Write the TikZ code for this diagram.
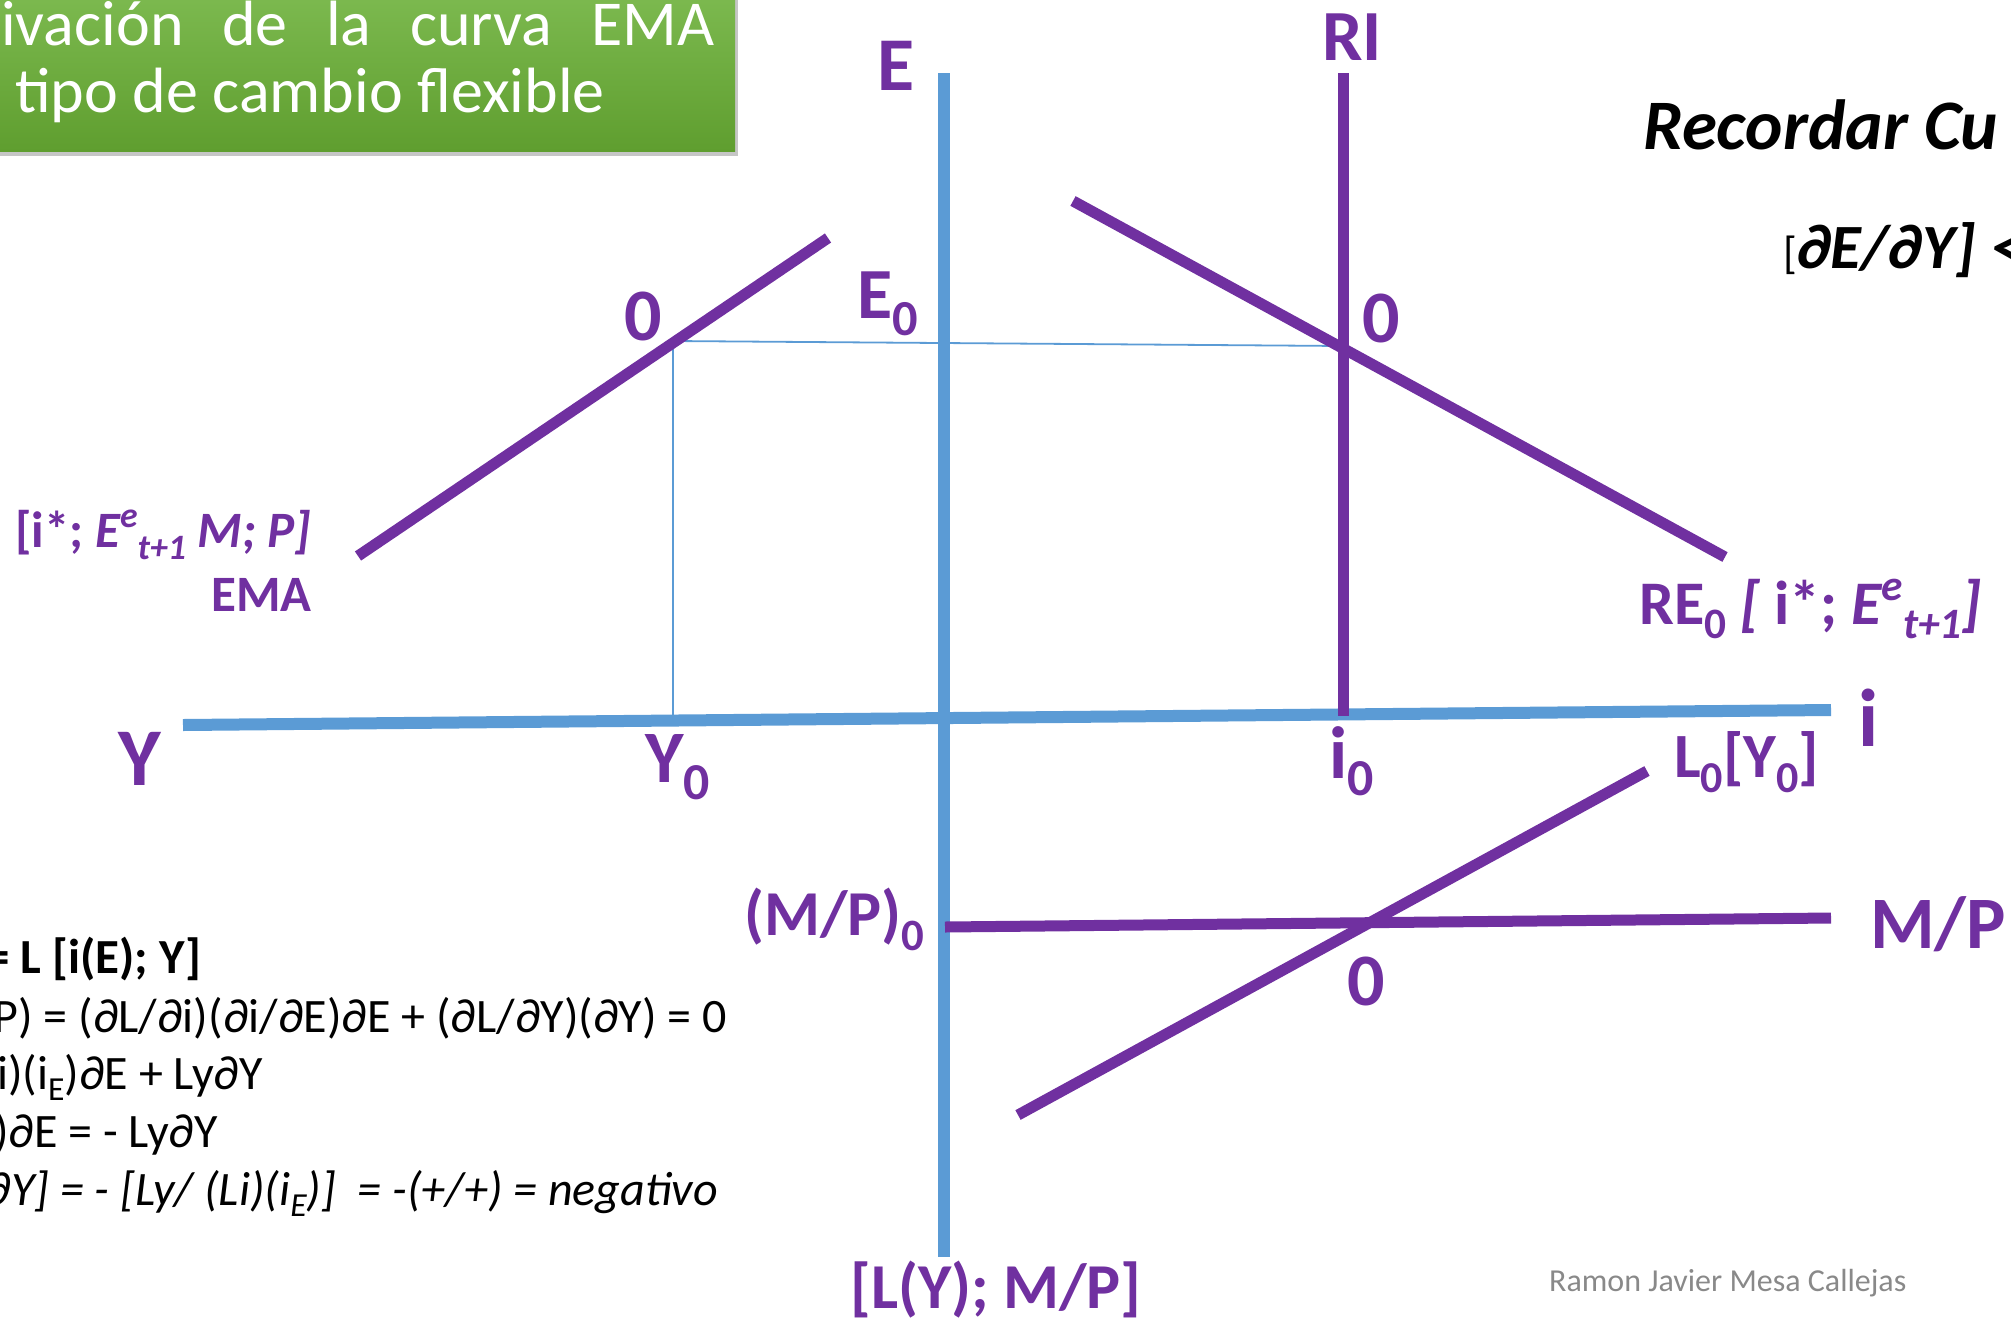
\documentclass[tikz,border=0pt]{standalone}
\usepackage{fontspec}
\setmainfont{Carlito}
\usepackage{graphicx}
\usetikzlibrary{positioning,shadows}
\definecolor{EmaPurple}{RGB}{112,48,160}
\definecolor{EmaBlue}{RGB}{91,155,213}
\definecolor{EmaGreenTop}{RGB}{125,186,80}
\definecolor{EmaGreenBot}{RGB}{95,158,47}
\definecolor{EmaGray}{RGB}{137,137,137}
\newcommand\dn[1]{\raisebox{-0.24em}{\scalebox{0.7}{#1}}}
\newcommand\up[1]{\raisebox{0.38em}{\scalebox{0.7}{#1}}}

\begin{document}
\begin{tikzpicture}[x=1pt,y=-1pt,
  axis/.style={EmaBlue,line width=12pt},
  curve/.style={EmaPurple,line width=11pt},
  guide/.style={EmaBlue,line width=1.8pt},
  lbl/.style={text=EmaPurple,inner sep=0pt,font=\fontsize{#1}{#1}\selectfont\bfseries},
  eqn/.style={inner sep=0pt,anchor=base east,font=\fontsize{48}{58}\selectfont},
  titletext/.style={text=white,inner sep=0pt,anchor=base west,font=\fontsize{64}{68}\selectfont}]
\useasboundingbox (0,0) rectangle (2011,1318);
\clip (0,0) rectangle (2011,1318);
% title box
\node[anchor=north west,minimum width=745pt,minimum height=161pt,inner sep=0pt,
   top color=EmaGreenTop,bottom color=EmaGreenBot,
   drop shadow={shadow xshift=3pt,shadow yshift=-5pt,opacity=0.45}] (titlebox) at (-10,-10) {};
\node[titletext] (title1) at (1,45) {\makebox[713pt][s]{ivación de la curva EMA}};
\node[titletext] (title2) at (15,112) {tipo de cambio flexible};
% points
\coordinate (Etop) at (944,73);   \coordinate (Ebot) at (944,1257);
\coordinate (Yend) at (183,725);  \coordinate (iend) at (1831,710);
\coordinate (RItop) at (1343,73); \coordinate (RIbot) at (1343,716);
\coordinate (EMAlo) at (358,556); \coordinate (EMAhi) at (828,238);
\coordinate (REhi) at (1073,201); \coordinate (RElo) at (1725,557);
\coordinate (Llo) at (1018,1115); \coordinate (Lhi) at (1647,771);
\coordinate (MPl) at (945,927);   \coordinate (MPr) at (1831,918);
\coordinate (eqA) at (673,341);   \coordinate (eqB) at (1343,346);
\coordinate (eqY) at (673,716);
% guides and axes
\draw[guide] (eqA) -- (eqB);
\draw[guide] (eqA) -- (eqY);
\draw[axis] (Etop) -- (Ebot);
\draw[axis] (Yend) -- (iend);
% curves
\draw[curve] (RItop) -- (RIbot);
\draw[curve] (EMAlo) -- (EMAhi);
\draw[curve] (REhi) -- (RElo);
\draw[curve] (Llo) -- (Lhi);
\draw[curve] (MPl) -- (MPr);
% axis labels
\node[lbl=76,anchor=base] (labE) at (896,90) {E};
\node[lbl=72,anchor=base] (labRI) at (1352,60) {RI};
\node[lbl=82,anchor=base] (labY) at (140,785) {Y};
\node[lbl=82,anchor=base] (labi) at (1869,746) {i};
\node[lbl=64,anchor=base west] (labLM) at (850,1308) {[L(Y); M/P]};
\node[lbl=74,anchor=base west] (labMP) at (1870,948) {M/P};
% equilibrium labels
\node[lbl=74,anchor=base] (zeroA) at (643,340) {0};
\node[lbl=74,anchor=base] (zeroB) at (1381,342) {0};
\node[lbl=74,anchor=base] (zeroC) at (1366,1005) {0};
\node[lbl=72,anchor=base west] (labE0) at (857,318) {E\dn{0}};
\node[lbl=74,anchor=base west] (labY0) at (645,782) {Y\dn{0}};
\node[lbl=74,anchor=base west] (labi0) at (1329,778) {i\dn{0}};
\node[lbl=63,anchor=base west] (labL0) at (1674,777) {L\dn{0}[Y\dn{0}]};
\node[lbl=64,anchor=base west] (labMP0) at (744,935) {(M/P)\dn{0}};
% curve labels
\node[lbl=51,anchor=base west] (labEMAarg) at (15,547) {[i*; \textit{E\up{e}\dn{t+1} M; P]}};
\node[lbl=51,anchor=base east] (labEMA) at (312,611) {EMA};
\node[lbl=62,anchor=base west] (labRE) at (1639,624) {RE\dn{0} \textit{[} i*; \textit{E\up{e}\dn{t+1}]}};
% remark
\node[inner sep=0pt,anchor=base west,font=\fontsize{71}{71}\selectfont\bfseries\itshape] (recall) at (1643,149) {Recordar Cu};
\node[inner sep=0pt,anchor=base west,font=\fontsize{63}{63}\selectfont\bfseries\itshape] (slope) at (1783,268) {{\fontsize{45}{45}\selectfont\mdseries\upshape[}∂E/∂Y] <};
% derivation
\node[eqn,font=\fontsize{49}{58}\selectfont\bfseries] (eq1) at (201,973) {= L [i(E); Y]};
\node[eqn] (eq2) at (727,1032) {P) = (∂L/∂i)(∂i/∂E)∂E + (∂L/∂Y)(∂Y) = 0};
\node[eqn] (eq3) at (263,1089) {i)(i\dn{E})∂E + Ly∂Y};
\node[eqn] (eq4) at (218,1147) {)∂E = - Ly∂Y};
\node[eqn,font=\fontsize{48}{58}\selectfont\itshape] (eq5) at (718,1205) {∂Y] = - [Ly/ (Li)(i\dn{E})] \ = -(+/+) = negativo};
% author
\node[inner sep=0pt,anchor=base west,text=EmaGray,font=\fontsize{32}{32}\selectfont] (author) at (1549,1291) {Ramon Javier Mesa Callejas};
\end{tikzpicture}
\end{document}
